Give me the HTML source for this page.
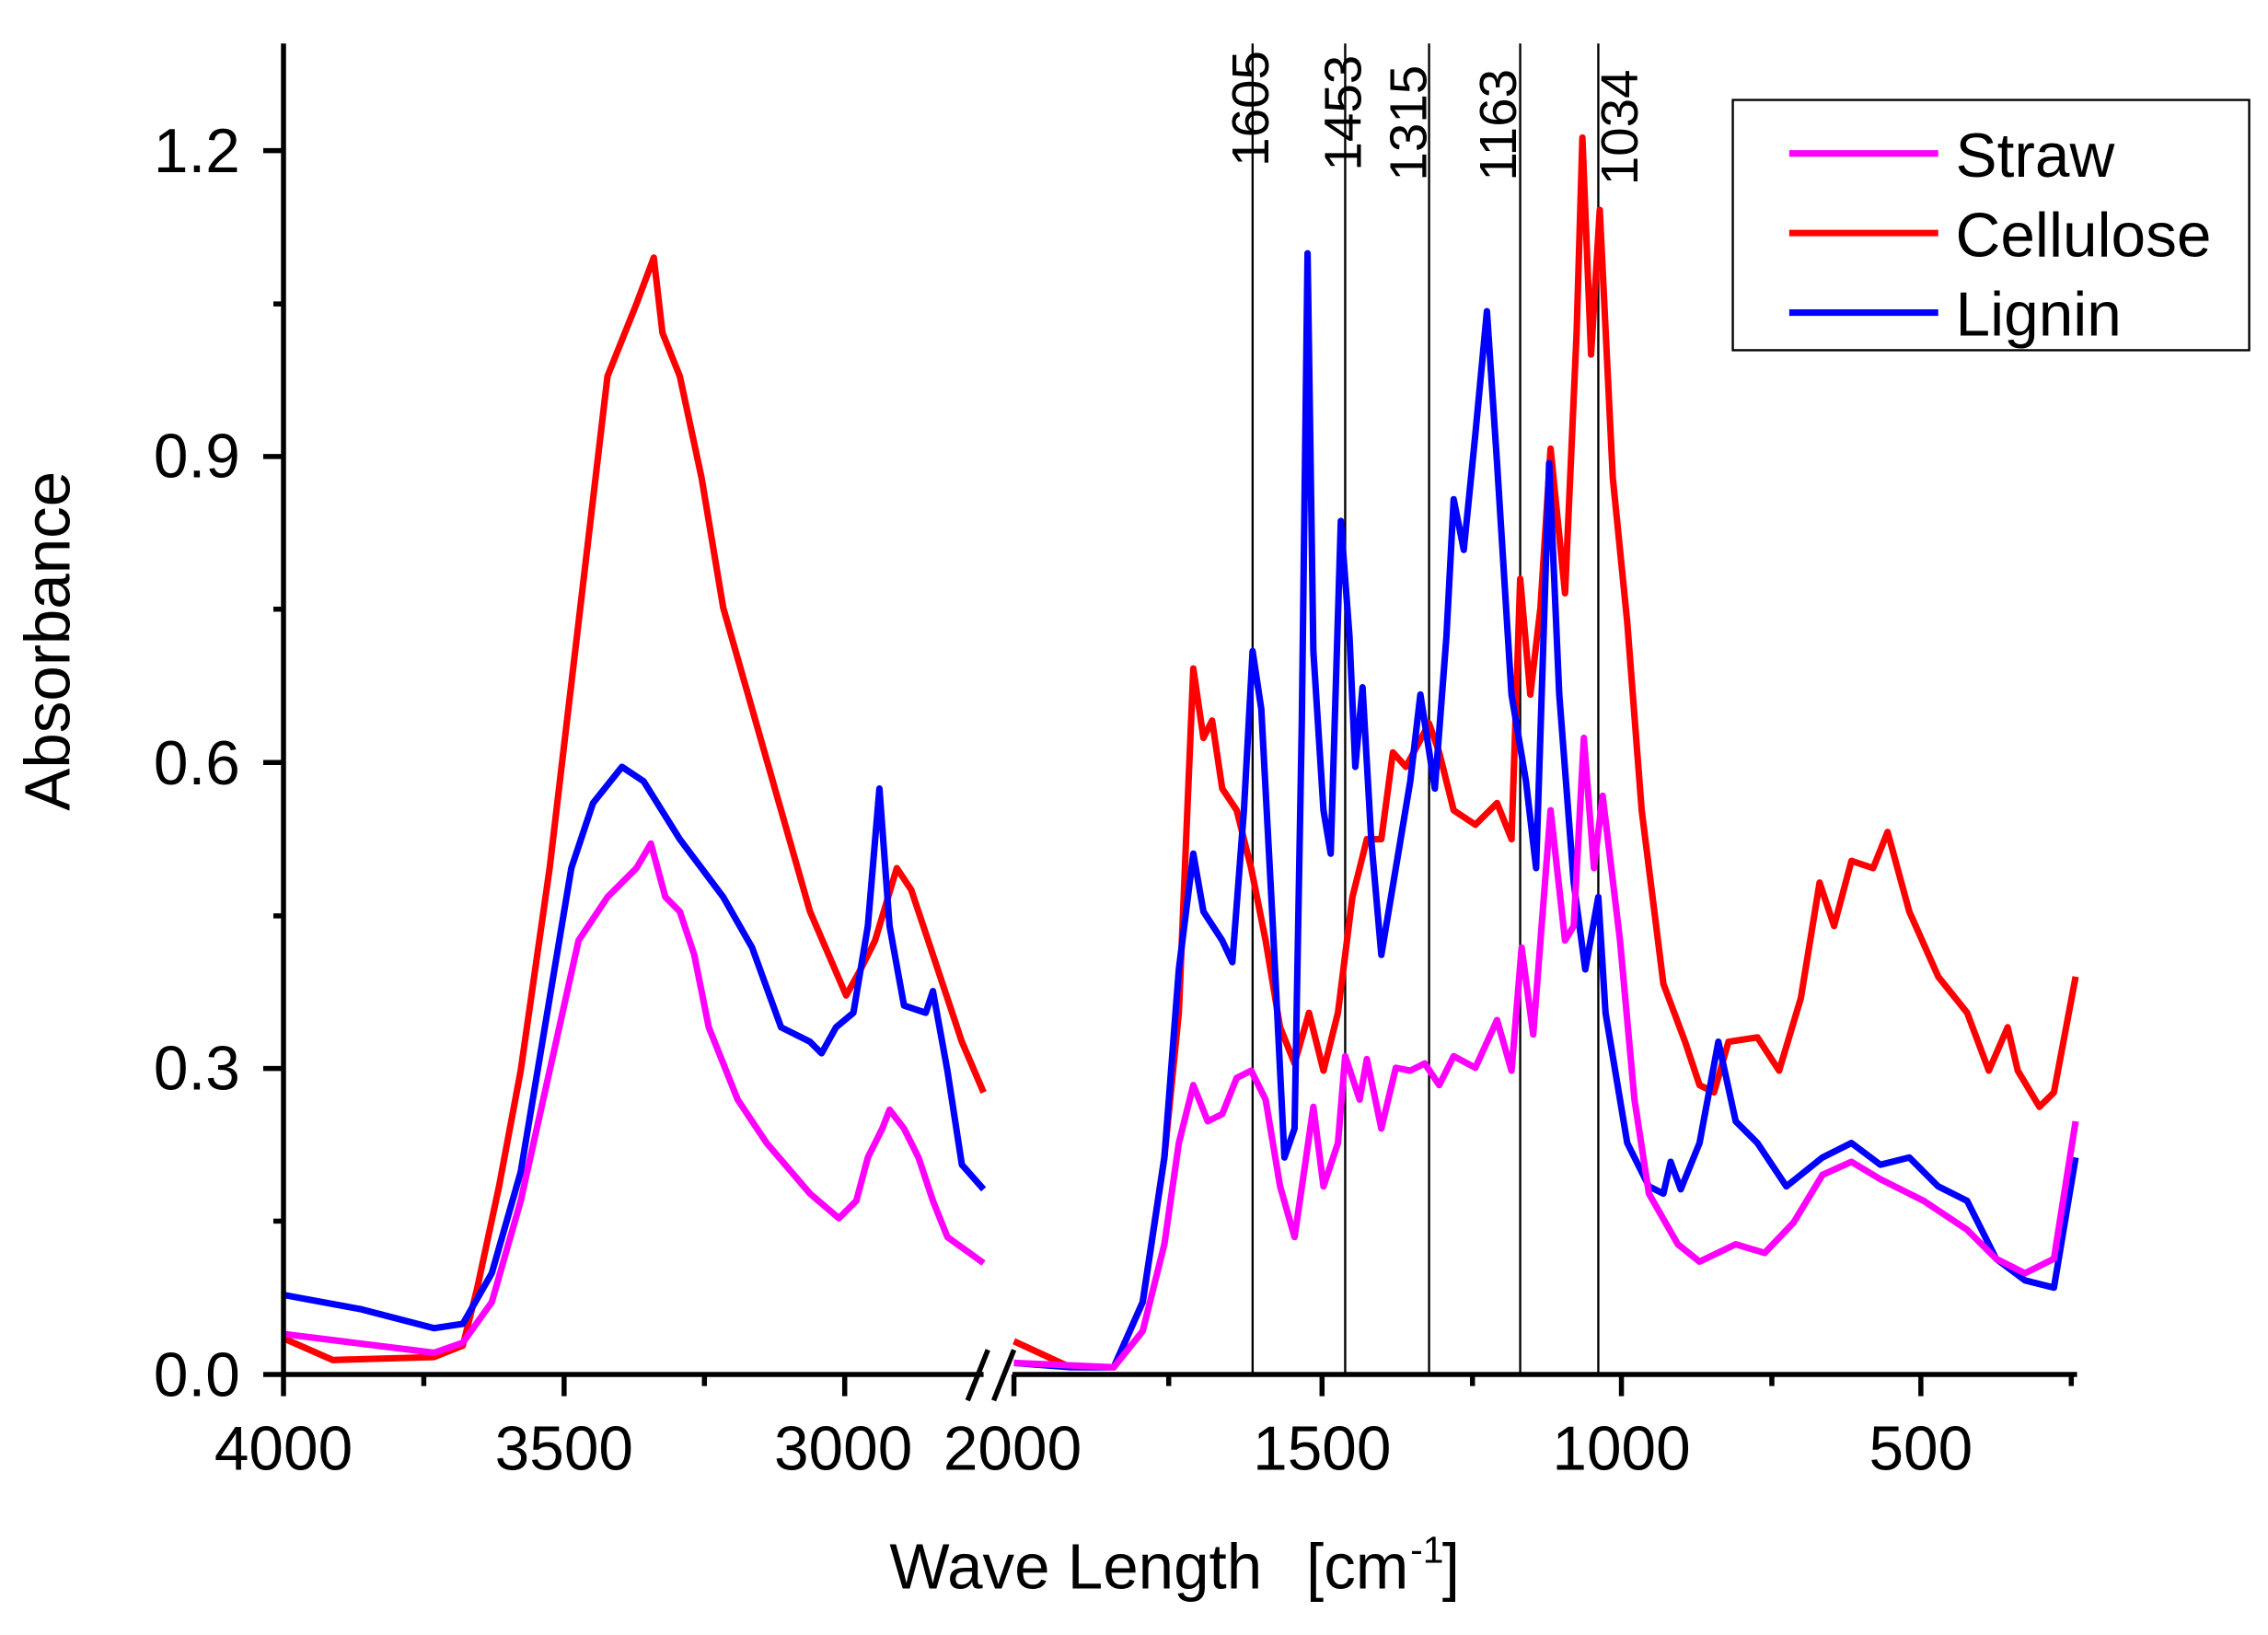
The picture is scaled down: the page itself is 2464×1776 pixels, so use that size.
<!DOCTYPE html>
<html><head><meta charset="utf-8"><style>
html,body{margin:0;padding:0;background:#fff;}
svg{display:block;}
text{font-family:"Liberation Sans",Arial,sans-serif;fill:#000;}
</style></head><body>
<svg width="2464" height="1776" viewBox="0 0 1568 1130" xmlns="http://www.w3.org/2000/svg">
<rect width="1568" height="1130" fill="#fff"/>
<g stroke="#000" stroke-width="1.5">
<line x1="866" y1="30" x2="866" y2="950"/>
<line x1="930" y1="30" x2="930" y2="950"/>
<line x1="988" y1="30" x2="988" y2="950"/>
<line x1="1051" y1="30" x2="1051" y2="950"/>
<line x1="1105" y1="30" x2="1105" y2="950"/>
</g>
<g font-size="36">
<text transform="translate(877,115) rotate(-90)">1605</text>
<text transform="translate(941,118) rotate(-90)">1453</text>
<text transform="translate(986,125) rotate(-90)">1315</text>
<text transform="translate(1048,125) rotate(-90)">1163</text>
<text transform="translate(1132,128) rotate(-90)">1034</text>
</g>
<g fill="none" stroke-width="4.5" stroke-linejoin="round">
<polyline stroke="#ff0000" points="196,925 230,940 300,938 320,930 330,890 345,820 360,740 380,600 400,430 420,260 440,210 452,178 458,230 470,260 485,330 500,420 520,490 540,560 560,630 585,688 595,670 605,650 620,600 630,615 645,660 665,720 680,755"/>
<polyline stroke="#ff0000" points="701,927 740,945 770,945 790,900 805,800 815,700 825,462 832,510 838,498 845,545 855,560 865,600 875,650 885,710 895,735 905,700 915,740 925,700 935,620 945,580 955,580 963,520 972,530 980,515 988,500 995,520 1005,560 1020,570 1035,555 1045,580 1051,400 1058,480 1065,420 1072,310 1082,410 1090,230 1094,95 1100,245 1106,145 1115,330 1125,430 1135,560 1150,680 1165,720 1175,750 1185,755 1195,720 1215,717 1230,740 1245,690 1258,610 1268,640 1280,595 1295,600 1305,575 1320,630 1340,675 1360,700 1375,740 1388,710 1395,740 1410,765 1420,755 1435,675"/>
<polyline stroke="#0000ff" points="196,895 250,905 300,918 320,915 340,880 360,810 380,690 395,600 410,555 430,530 445,540 470,580 500,620 520,655 540,710 560,720 568,728 578,710 590,700 600,640 608,545 615,640 625,695 640,700 645,685 655,740 665,805 680,822"/>
<polyline stroke="#0000ff" points="701,942 740,945 770,945 790,900 805,800 815,670 825,590 832,630 845,650 852,665 860,560 866,450 872,490 880,640 888,800 895,780 900,500 904,175 908,450 915,560 920,590 927,360 933,440 937,530 942,475 948,580 955,660 965,600 975,540 982,480 992,545 1000,440 1005,345 1012,380 1020,300 1028,215 1035,320 1045,480 1055,540 1062,600 1071,320 1078,480 1088,610 1096,670 1105,620 1110,700 1125,790 1140,820 1150,825 1155,803 1162,822 1175,790 1188,720 1200,775 1215,790 1235,820 1260,800 1280,790 1300,805 1320,800 1340,820 1360,830 1380,870 1400,885 1420,890 1435,800"/>
<polyline stroke="#ff00ff" points="196,922 300,935 320,928 340,900 360,830 380,740 400,650 420,620 440,600 450,583 460,620 470,630 480,660 490,710 510,760 530,790 560,825 580,842 592,830 600,800 610,780 615,767 625,780 635,800 645,830 655,855 680,873"/>
<polyline stroke="#ff00ff" points="701,942 770,945 790,920 805,860 815,790 825,750 835,775 845,770 855,745 865,740 875,760 885,820 895,855 903,800 908,765 915,820 925,790 930,730 940,760 945,732 955,780 965,738 975,740 985,735 995,750 1005,730 1020,738 1035,705 1045,740 1052,655 1060,715 1072,560 1082,650 1088,640 1095,510 1102,600 1108,550 1120,650 1130,760 1140,825 1160,860 1175,872 1200,860 1220,866 1240,845 1260,812 1280,803 1300,815 1330,830 1360,850 1380,870 1400,880 1420,870 1435,775"/>
</g>
<g stroke="#000" stroke-width="3.5" fill="none">
<line x1="196" y1="30" x2="196" y2="951"/>
<line x1="195" y1="950" x2="680" y2="950"/>
<line x1="700" y1="950" x2="1436" y2="950"/>
<line x1="669" y1="968" x2="683" y2="933"/>
<line x1="687" y1="968" x2="701" y2="933"/>
<line x1="182" y1="950" x2="196" y2="950"/>
<line x1="182" y1="738.5" x2="196" y2="738.5"/>
<line x1="182" y1="527" x2="196" y2="527"/>
<line x1="182" y1="315.5" x2="196" y2="315.5"/>
<line x1="182" y1="104" x2="196" y2="104"/>
<line x1="189" y1="844" x2="196" y2="844"/>
<line x1="189" y1="633" x2="196" y2="633"/>
<line x1="189" y1="421" x2="196" y2="421"/>
<line x1="189" y1="210" x2="196" y2="210"/>
<line x1="196" y1="950" x2="196" y2="965"/>
<line x1="390" y1="950" x2="390" y2="965"/>
<line x1="584" y1="950" x2="584" y2="965"/>
<line x1="293" y1="950" x2="293" y2="958"/>
<line x1="487" y1="950" x2="487" y2="958"/>
<line x1="701" y1="950" x2="701" y2="965"/>
<line x1="914" y1="950" x2="914" y2="965"/>
<line x1="1121" y1="950" x2="1121" y2="965"/>
<line x1="1328" y1="950" x2="1328" y2="965"/>
<line x1="808" y1="950" x2="808" y2="958"/>
<line x1="1018" y1="950" x2="1018" y2="958"/>
<line x1="1225" y1="950" x2="1225" y2="958"/>
<line x1="1432" y1="950" x2="1432" y2="958"/>
</g>
<g font-size="43" text-anchor="end">
<text x="166" y="965">0.0</text>
<text x="166" y="753">0.3</text>
<text x="166" y="542">0.6</text>
<text x="166" y="330">0.9</text>
<text x="166" y="119">1.2</text>
</g>
<g font-size="43" text-anchor="middle">
<text x="196" y="1016">4000</text>
<text x="390" y="1016">3500</text>
<text x="583" y="1016">3000</text>
<text x="700" y="1016">2000</text>
<text x="914" y="1016">1500</text>
<text x="1121" y="1016">1000</text>
<text x="1328" y="1016">500</text>
</g>
<text font-size="44" text-anchor="middle" transform="translate(48,443) rotate(-90)">Absorbance</text>
<text font-size="44" x="615" y="1098">Wave Length</text>
<text font-size="44" x="903" y="1098">[cm</text>
<text font-size="26" x="975" y="1080">-1</text>
<text font-size="44" x="997" y="1098">]</text>
<rect x="1198" y="69" width="357" height="173" fill="#fff" stroke="#000" stroke-width="1.5"/>
<g stroke-width="4.5">
<line x1="1237" y1="106" x2="1340" y2="106" stroke="#ff00ff"/>
<line x1="1237" y1="161" x2="1340" y2="161" stroke="#ff0000"/>
<line x1="1237" y1="216" x2="1340" y2="216" stroke="#0000ff"/>
</g>
<g font-size="43">
<text x="1352" y="122">Straw</text>
<text x="1352" y="177">Cellulose</text>
<text x="1352" y="232">Lignin</text>
</g>
</svg>
</body></html>
